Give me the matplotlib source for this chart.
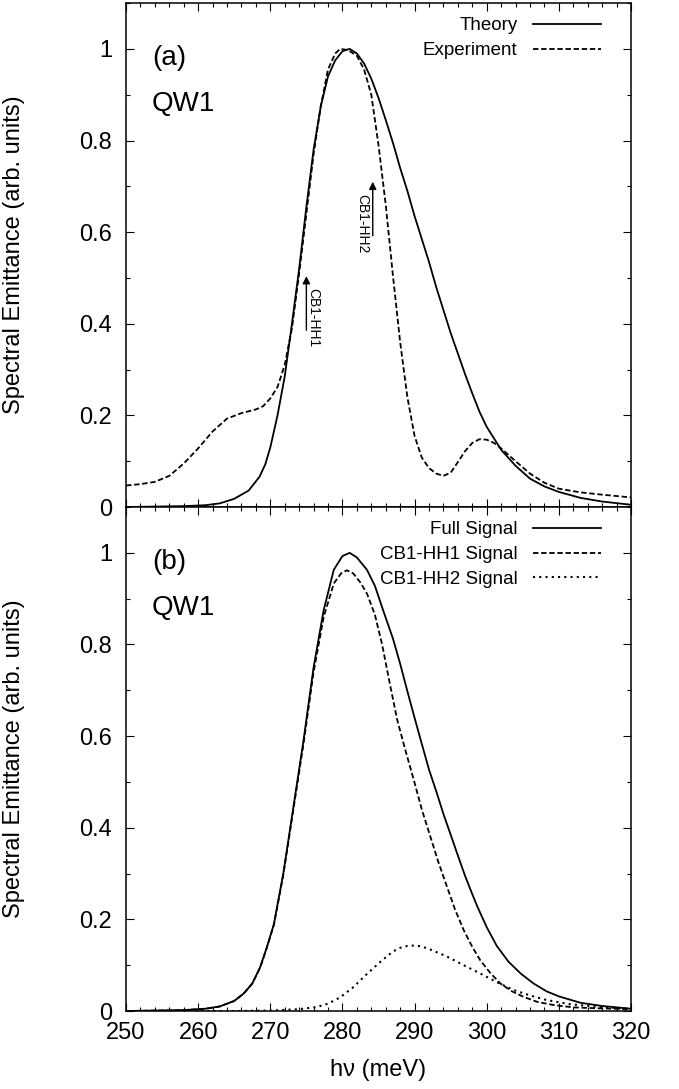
import numpy as np
import matplotlib
matplotlib.use("Agg")
import matplotlib.pyplot as plt
from matplotlib.ticker import MultipleLocator

plt.rcParams['font.family'] = ['Liberation Sans', 'DejaVu Sans']

# --- panel (a): theory vs experiment ---
e_theory = [250, 254, 258, 261, 263, 265, 267, 268.5, 269.3, 270, 271, 272, 273, 274, 275,
            276, 277, 278, 279, 280, 281, 282, 283, 284, 285, 286, 287, 288, 289, 290, 291,
            292, 293, 294, 295, 296, 297, 298, 299, 300, 302, 304, 306, 308, 310, 313,
            316, 320]
theory = [0.000, 0.001, 0.002, 0.004, 0.008, 0.018, 0.036, 0.066, 0.093, 0.13, 0.20, 0.285,
          0.40, 0.52, 0.655, 0.78, 0.875, 0.94, 0.975, 0.995, 1.0, 0.99, 0.968, 0.935,
          0.893, 0.845, 0.795, 0.74, 0.69, 0.635, 0.585, 0.535, 0.48, 0.43, 0.38, 0.335,
          0.29, 0.248, 0.208, 0.175, 0.125, 0.09, 0.062, 0.045, 0.033, 0.02, 0.012, 0.005]

e_exp = [250, 252, 254, 256, 258, 260, 262, 264, 266, 268, 269, 270, 271, 272, 273, 274,
         275, 276, 277, 278, 279, 279.7, 280.5, 281, 282, 283, 284, 285, 286, 287, 288,
         289, 290, 291, 292, 293, 294, 295, 296, 297, 298, 299, 300, 301, 302, 304, 306,
         308, 310, 313, 316, 320]
experiment = [0.047, 0.05, 0.055, 0.068, 0.095, 0.128, 0.165, 0.193, 0.205, 0.213, 0.22,
              0.237, 0.262, 0.31, 0.39, 0.51, 0.64, 0.77, 0.875, 0.955, 0.99, 1.0, 0.998,
              0.995, 0.985, 0.955, 0.9, 0.79, 0.66, 0.505, 0.36, 0.24, 0.155, 0.108, 0.085,
              0.073, 0.068, 0.075, 0.098, 0.122, 0.14, 0.148, 0.147, 0.14, 0.128, 0.10,
              0.073, 0.053, 0.04, 0.032, 0.027, 0.021]

# --- panel (b): decomposition ---
e_full = [250, 254, 258, 261, 263, 265, 266.3, 267.5, 268.6, 269.5, 270.5, 271.8, 273.2,
          274.6, 276, 277.4, 278.8, 280, 281, 282, 283.4, 284.5, 285.7, 287, 288, 289, 290,
          291, 292, 293.1, 294, 295, 295.9, 297, 298, 298.7, 300, 301.4, 303, 304.7, 306.5,
          308.3, 310, 313, 316, 320]
full = [0.0, 0.001, 0.002, 0.005, 0.01, 0.022, 0.038, 0.06, 0.096, 0.138, 0.19, 0.30, 0.445,
        0.59, 0.75, 0.875, 0.963, 0.993, 1.0, 0.99, 0.963, 0.928, 0.872, 0.813, 0.758, 0.698,
        0.64, 0.583, 0.527, 0.475, 0.43, 0.385, 0.344, 0.295, 0.255, 0.228, 0.183, 0.142,
        0.108, 0.082, 0.06, 0.043, 0.032, 0.018, 0.011, 0.005]

e_hh1 = [250, 254, 258, 261, 263, 265, 266.3, 267.5, 268.6, 269.5, 270.5, 271.8, 273.2,
         274.6, 276, 277.4, 278.8, 279.8, 280.6, 281.5, 282.5, 283.4, 284.5, 285.5, 286.5,
         287.6, 288.8, 289.9, 291, 292.2, 293.3, 294.5, 295.6, 296.8, 298, 299.1, 300.5,
         301.9, 303.5, 305.1, 307, 309.3, 312, 315.3, 320]
hh1 = [0.0, 0.001, 0.002, 0.005, 0.01, 0.022, 0.038, 0.06, 0.095, 0.137, 0.188, 0.297, 0.44,
       0.583, 0.74, 0.86, 0.933, 0.955, 0.962, 0.955, 0.935, 0.911, 0.865, 0.80, 0.72, 0.635,
       0.565, 0.504, 0.44, 0.38, 0.325, 0.271, 0.222, 0.177, 0.14, 0.111, 0.083, 0.06,
       0.043, 0.031, 0.02, 0.013, 0.008, 0.006, 0.004]

e_hh2 = [250, 265, 270, 274, 276.5, 278, 279.7, 281.5, 283.4, 285.3, 287, 288, 289, 290,
         291, 292.2, 294.5, 296.8, 299.1, 301.4, 303.7, 306, 308.3, 311.5, 315.3, 320]
hh2 = [0.0, 0.0, 0.001, 0.004, 0.009, 0.016, 0.03, 0.052, 0.081, 0.108, 0.13, 0.138, 0.142,
       0.143, 0.141, 0.134, 0.119, 0.10, 0.082, 0.063, 0.046, 0.034, 0.024, 0.015, 0.009,
       0.005]

# transition markers (energy, arrow base, arrow tip)
trans_labels = ["CB1-HH1", "CB1-HH2"]
trans_e = [275.0, 284.2]
trans_lo = [0.386, 0.592]
trans_hi = [0.504, 0.71]

DASH = (0, (3, 1.5))
DOT = (0, (1, 2))
LW = 1.3

fig = plt.figure(figsize=(6.79, 10.89), dpi=100)
ax_a = fig.add_axes([0.1856, 0.5344, 0.7437, 0.4628])
ax_b = fig.add_axes([0.1856, 0.0716, 0.7437, 0.4628])


def style_axis(ax):
    ax.set_xlim(250, 320)
    ax.set_ylim(0, 1.1)
    ax.xaxis.set_major_locator(MultipleLocator(10))
    ax.xaxis.set_minor_locator(MultipleLocator(2))
    ax.yaxis.set_major_locator(MultipleLocator(0.2))
    ax.yaxis.set_minor_locator(MultipleLocator(0.1))
    ax.yaxis.set_major_formatter(lambda v, p: f"{v:g}" if v <= 1.0001 else "")
    ax.tick_params(which='both', direction='in', top=True, right=True, width=0.8,
                   labelsize=17)
    ax.tick_params(which='major', length=6)
    ax.tick_params(which='minor', length=3.2)
    ax.tick_params(axis='y', pad=10)
    ax.tick_params(axis='x', pad=8)
    for s in ax.spines.values():
        s.set_linewidth(1.1)
    ax.set_ylabel("Spectral Emittance (arb. units)", fontsize=17)
    ax.yaxis.set_label_coords(-0.2, 0.5)


def add_legend(ax):
    ax.legend(loc='upper right', bbox_to_anchor=(0.9406, 0.972), frameon=False,
              markerfirst=False, fontsize=13.5, handlelength=3.6, handletextpad=0.85,
              labelspacing=0.41, borderpad=0, borderaxespad=0)


# panel (a)
ax_a.plot(e_theory, theory, color='k', lw=LW, label="Theory")
ax_a.plot(e_exp, experiment, color='k', lw=LW, ls=DASH, label="Experiment")
style_axis(ax_a)
ax_a.tick_params(axis='x', labelbottom=False)
ax_a.text(253.6, 0.98, "(a)", fontsize=20, va='center', ha='left')
ax_a.text(253.6, 0.88, "QW1", fontsize=20, va='center', ha='left')
add_legend(ax_a)

for lab, e, lo, hi, dx in zip(trans_labels, trans_e, trans_lo, trans_hi, [5, -7.2]):
    ax_a.annotate("", xy=(e, hi), xytext=(e, lo),
                  arrowprops=dict(arrowstyle='-|>', color='k', lw=1, mutation_scale=11,
                                  shrinkA=0, shrinkB=0))
    ax_a.annotate(lab, xy=(e, (lo + hi) / 2), xytext=(dx, -10.6),
                  textcoords='offset points', rotation=-90, fontsize=10,
                  ha='center', va='center')

# panel (b)
ax_b.plot(e_full, full, color='k', lw=LW, label="Full Signal")
ax_b.plot(e_hh1, hh1, color='k', lw=LW, ls=DASH, label="CB1-HH1 Signal")
ax_b.plot(e_hh2, hh2, color='k', lw=1.5, ls=DOT, label="CB1-HH2 Signal")
style_axis(ax_b)
ax_b.set_xlabel("h\u03bd (meV)", fontsize=17, labelpad=11)
ax_b.text(253.6, 0.98, "(b)", fontsize=20, va='center', ha='left')
ax_b.text(253.6, 0.88, "QW1", fontsize=20, va='center', ha='left')
add_legend(ax_b)

fig.savefig("out.png", dpi=100)
